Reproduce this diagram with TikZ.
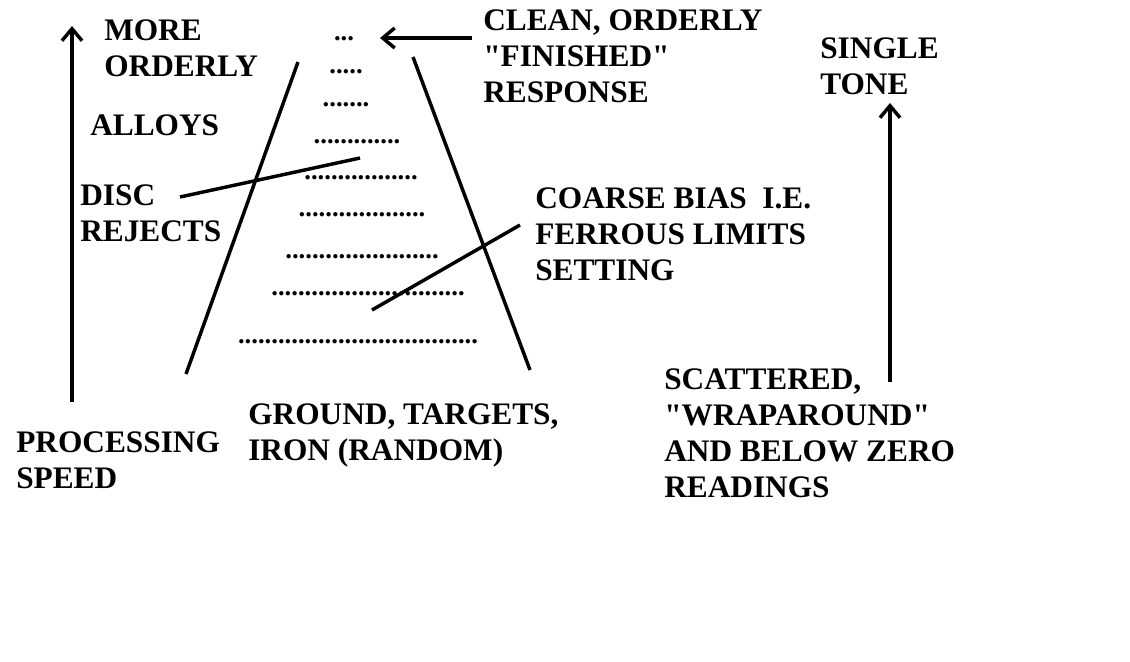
\documentclass[tikz,border=0pt]{standalone}
\usepackage{fontspec}
\setmainfont[Ligatures=TeXOff]{Liberation Serif}
\usetikzlibrary{arrows.meta}
\begin{document}
\begin{tikzpicture}[x=0.75pt,y=-0.75pt,
  lbl/.style={anchor=north west,inner sep=0,align=left,font=\fontsize{23.5}{27}\selectfont\bfseries},
  dots/.style={anchor=base,inner sep=0,font=\fontsize{20}{27}\selectfont\bfseries},
  ln/.style={line width=2.6pt},
  arr/.style={line width=2.6pt,-{Straight Barb[length=9pt,width=15pt,line width=2.6pt]}}]
\useasboundingbox (0,0) rectangle (1130,661);
\coordinate (la1) at (72,402); \coordinate (la2) at (72,26);
\draw[arr] (la1) -- (la2);
\coordinate (ra1) at (890,382); \coordinate (ra2) at (890,103);
\draw[arr] (ra1) -- (ra2);
\coordinate (ta1) at (472,38); \coordinate (ta2) at (380,38);
\draw[arr] (ta1) -- (ta2);
\coordinate (t1) at (298,62); \coordinate (t2) at (186,374);
\coordinate (t3) at (413,57); \coordinate (t4) at (530,370);
\draw[ln] (t1) -- (t2); \draw[ln] (t3) -- (t4);
\coordinate (d1) at (180,197); \coordinate (d2) at (360,158);
\draw[ln] (d1) -- (d2);
\coordinate (c1) at (520,225); \coordinate (c2) at (372,310);
\draw[ln] (c1) -- (c2);
\node[dots] (r1) at (344,40) {...};
\node[dots] (r2) at (346,73) {.....};
\node[dots] (r3) at (346,106) {.......};
\node[dots] (r4) at (357,143) {.............};
\node[dots] (r5) at (361,179) {.................};
\node[dots] (r6) at (362,216) {...................};
\node[dots] (r7) at (362,258) {.......................};
\node[dots] (r8) at (368,295) {.............................};
\node[dots] (r9) at (358,343) {....................................};
\node[lbl] (mo) at (104,19) {MORE\\ORDERLY};
\node[lbl] (al) at (90,114) {ALLOYS};
\node[lbl] (dr) at (80,184) {DISC\\REJECTS};
\node[lbl] (cl) at (483,9) {CLEAN, ORDERLY\\"FINISHED"\\RESPONSE};
\node[lbl] (cb) at (535,187) {COARSE BIAS\ \ I.E.\\FERROUS LIMITS\\SETTING};
\node[lbl] (gr) at (248,403) {GROUND, TARGETS,\\IRON (RANDOM)};
\node[lbl] (ps) at (16,431) {PROCESSING\\SPEED};
\node[lbl] (st) at (820,37) {SINGLE\\TONE};
\node[lbl] (sc) at (664,368) {SCATTERED,\\"WRAPAROUND"\\AND BELOW ZERO\\READINGS};
\end{tikzpicture}
\end{document}
